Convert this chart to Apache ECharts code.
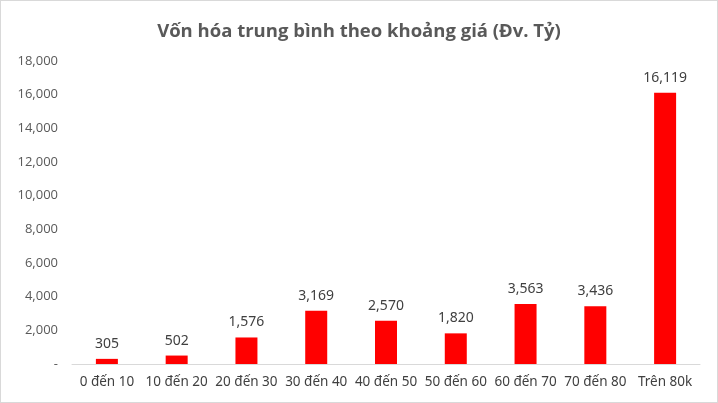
<!DOCTYPE html>
<html><head><meta charset="utf-8">
<script src="https://cdn.jsdelivr.net/npm/echarts@6/dist/echarts.min.js"></script>
<style>html,body{margin:0;padding:0;background:#fff}#c{width:718px;height:403px;box-sizing:border-box;border:1px solid #d9d9d9}</style>
</head><body><div id="c"></div>
<script>
const categories = ["0 đến 10","10 đến 20","20 đến 30","30 đến 40","40 đến 50","50 đến 60","60 đến 70","70 đến 80","Trên 80k"];
const values = [305, 502, 1576, 3169, 2570, 1820, 3563, 3436, 16119];
const chart = echarts.init(document.getElementById('c'));
chart.setOption({
  animation:false,
  title:{text:"Vốn hóa trung bình theo khoảng giá (Đv. Tỷ)",left:'center',top:16,
    textStyle:{fontFamily:"Open Sans",fontWeight:'bold',fontSize:18.5,color:'#595959'}},
  grid:{left:71,right:17,top:60,bottom:38,containLabel:false},
  xAxis:{type:'category',data:categories,
    axisLine:{lineStyle:{color:'#d9d9d9'}},axisTick:{show:false},
    axisLabel:{interval:0,color:'#404040',fontFamily:"Noto Sans",fontSize:13.5,margin:11}},
  yAxis:{type:'value',min:0,max:18000,interval:2000,
    splitLine:{show:false},axisLine:{show:false},axisTick:{show:false},
    axisLabel:{color:'#595959',fontFamily:"Open Sans",fontSize:13,margin:14,
      formatter:v=>v===0?'-':v.toLocaleString('en-US')}},
  series:[{type:'bar',data:values,barWidth:22,itemStyle:{color:'#ff0000'},
    label:{show:true,position:'top',distance:8,color:'#404040',fontFamily:"Noto Sans",fontSize:14,
      formatter:p=>p.value.toLocaleString('en-US')}}]
});
</script></body></html>
